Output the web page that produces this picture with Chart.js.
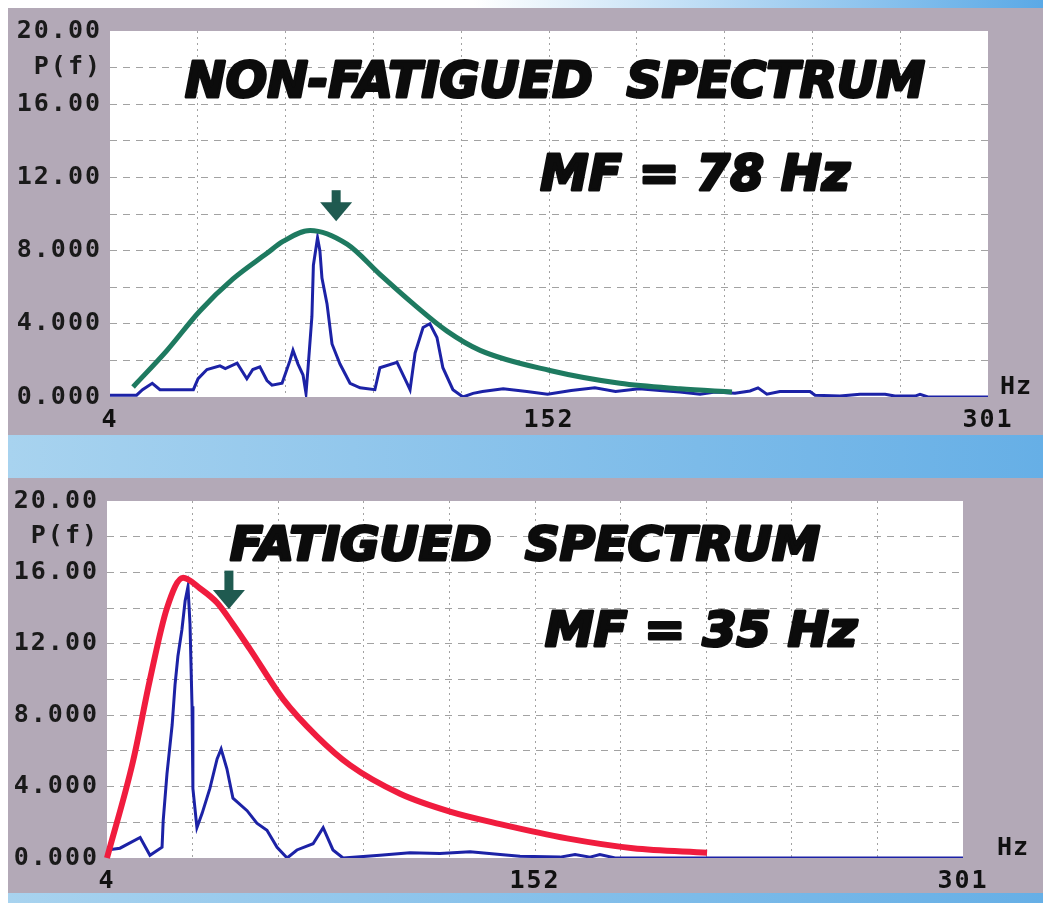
<!DOCTYPE html>
<html>
<head>
<meta charset="utf-8">
<script src="https://cdn.jsdelivr.net/npm/chart.js@4.4.1/dist/chart.umd.min.js"></script>
<style>
  body { margin: 0; width: 1043px; height: 903px; background: #fff; position: relative; overflow: hidden; }
  .panel { position: absolute; left: 8px; width: 1035px; background: #b3a9b7; }
  .band { position: absolute; left: 8px; width: 1035px; background: linear-gradient(90deg, #a8d3ef, #66afe6); }
  #p1 { top: 8px; height: 427px; }
  #p2 { top: 478px; height: 415px; }
</style>
</head>
<body>
<div class="band" style="top:0;height:8px;background:linear-gradient(90deg,#fff 45%,#5aa9e6)"></div>
<div class="panel" id="p1"><canvas id="topChart"></canvas></div>
<div class="band" style="top:435px;height:43px"></div>
<div class="panel" id="p2"><canvas id="botChart"></canvas></div>
<div class="band" style="top:893px;height:10px"></div>
<script>
// axis ticks (10 divisions each way)
const xGridHz = [4, 33.7, 63.4, 93.1, 122.8, 152.5, 182.2, 211.9, 241.6, 271.3, 301];
const xTickText = ['4', '', '', '', '', '152', '', '', '', '', '301'];
const yGrid = [0, 2, 4, 6, 8, 10, 12, 14, 16, 18, 20];
const yTickText = ['0.000', '', '4.000', '', '8.000', '', '12.00', '', '16.00', 'P(f)', '20.00'];

// non-fatigued: measured spectrum
const topFreq = [4, 13, 15, 18.3, 20.9, 32.2, 33.8, 36.8, 41.2, 43, 47, 50.3, 52.3, 54.7, 57.1, 58.8,
  62.2, 64.9, 65.9, 67.6, 69.3, 70.3, 71, 72.3, 72.8, 74.2, 75, 75.7, 77.4, 79.1, 81.8, 85.2, 88.6,
  93.6, 95.3, 101.1, 104.5, 105.5, 107.2, 109.9, 112.2, 114.6, 116.6, 120, 123.4, 126.8, 130, 137,
  145, 152, 160, 168, 175, 183, 190, 196.8, 203.6, 208.7, 215.4, 220.5, 223.2, 226.2, 230.6, 240.8,
  242.5, 250.9, 257.7, 266.2, 269.5, 276.3, 278, 280.7, 301];
const topPower = [0.1, 0.1, 0.4, 0.75, 0.4, 0.4, 1.0, 1.5, 1.7, 1.55, 1.85, 1.0, 1.5, 1.65, 0.9, 0.65,
  0.75, 2.0, 2.55, 1.8, 1.2, 0.2, 1.6, 4.4, 7.2, 8.7, 8.0, 6.5, 5.1, 2.9, 1.8, 0.75, 0.5,
  0.4, 1.6, 1.9, 0.75, 0.4, 2.4, 3.8, 4.0, 3.25, 1.6, 0.4, 0.0, 0.2, 0.3, 0.45,
  0.3, 0.15, 0.35, 0.5, 0.3, 0.45, 0.35, 0.27, 0.15, 0.27, 0.2, 0.33, 0.5, 0.15, 0.3, 0.3,
  0.1, 0.05, 0.15, 0.15, 0.05, 0.05, 0.15, 0.0, 0.0];
// non-fatigued: fitted curve
const topFitFreq = [11.8, 23.3, 34.4, 45.6, 57.1, 62.5, 71.7, 84.2, 95.3, 106.5, 118, 129.2, 152.8, 176.5, 196.8, 214.4];
const topFitPower = [0.55, 2.55, 4.7, 6.45, 7.85, 8.5, 9.1, 8.35, 6.7, 5.1, 3.6, 2.55, 1.45, 0.75, 0.45, 0.27];

// fatigued: measured spectrum
const botFreq = [4, 8.5, 15.5, 18.9, 23.1, 23.5, 24.8, 26.6, 27.6, 28.6, 30, 31.1, 32.1, 32.8, 33.5, 33.8,
  35.2, 37, 39.7, 42.2, 43.6, 45.6, 47.7, 52.6, 56, 59.5, 63, 66.5, 69.9, 75.5, 79, 82.4, 85.9,
  98.7, 109.1, 119.5, 130, 140.4, 147.3, 161.2, 166.4, 171.6, 175, 180.3, 301];
const botPower = [0.45, 0.55, 1.15, 0.15, 0.6, 2.1, 4.7, 7.45, 9.7, 11.3, 12.8, 14.4, 15.2, 13.1, 8.5, 3.9,
  1.7, 2.5, 3.9, 5.55, 6.1, 5.0, 3.35, 2.65, 1.95, 1.55, 0.6, 0.0, 0.45, 0.8, 1.7, 0.45, 0.0,
  0.15, 0.3, 0.25, 0.35, 0.2, 0.1, 0.05, 0.2, 0.05, 0.2, 0.0, 0.0];
// fatigued: fitted curve
const botFitFreq = [4, 13, 18.9, 24.8, 30.4, 36.3, 42.2, 47.7, 53.6, 65.1, 76.9, 88.3, 105.7, 123, 140.4, 163.6, 186.5, 212.2];
const botFitPower = [0.0, 5.4, 10.0, 14.0, 15.7, 15.1, 14.3, 13.1, 11.7, 8.9, 6.8, 5.2, 3.6, 2.6, 1.9, 1.1, 0.55, 0.3];

// annotations, in axis units (Hz / P)
const topNotes = [
  { text: 'NON-FATIGUED  SPECTRUM', from: 29.4, to: 279.7, base: 16.4, cap: 18.4 },
  { text: 'MF = 78 Hz', from: 149.5, to: 254.3, base: 11.3, cap: 13.3 }
];
const botNotes = [
  { text: 'FATIGUED  SPECTRUM', from: 46.7, to: 251.4, base: 16.7, cap: 18.6 },
  { text: 'MF = 35 Hz', from: 156, to: 264.3, base: 11.85, cap: 13.8 }
];
const topArrow = { at: 80.5, from: 11.3, to: 9.6 };
const botArrow = { at: 46.3, from: 16.1, to: 13.95 };

const pairs = (xs, ys) => xs.map((x, i) => ({ x, y: ys[i] }));

const plotPlugin = {
  id: 'plot',
  beforeDraw(chart) {
    const { ctx, chartArea: a } = chart;
    ctx.save();
    ctx.fillStyle = '#fff';
    ctx.fillRect(a.left, a.top, a.right - a.left, a.bottom - a.top);
    ctx.restore();
    ctx.letterSpacing = '2px'; // wide screen font for tick labels
  },
  afterDraw(chart, args, opts) {
    const { ctx, chartArea: a } = chart;
    const xs = chart.scales.x, ys = chart.scales.y;
    ctx.save();
    ctx.letterSpacing = '0px';
    ctx.fillStyle = '#0c0c0c';
    ctx.strokeStyle = '#0c0c0c';
    ctx.lineWidth = 3;
    ctx.lineJoin = 'round';
    opts.notes.forEach(n => {
      const left = xs.getPixelForValue(n.from), right = xs.getPixelForValue(n.to);
      const base = ys.getPixelForValue(n.base), top = ys.getPixelForValue(n.cap);
      const size = (base - top) / 0.73;
      ctx.font = 'italic bold ' + size + 'px "DejaVu Sans"';
      const w = ctx.measureText(n.text).width;
      ctx.save();
      ctx.translate(left, base);
      ctx.scale((right - left) / w, 1);
      ctx.textBaseline = 'alphabetic';
      ctx.fillText(n.text, 0, 0);
      ctx.strokeText(n.text, 0, 0);
      ctx.restore();
    });
    // marker arrow
    const ar = opts.arrow;
    const ax = xs.getPixelForValue(ar.at), y0 = ys.getPixelForValue(ar.from), y1 = ys.getPixelForValue(ar.to);
    ctx.fillStyle = '#1f5a50';
    ctx.fillRect(ax - 4.5, y0, 9, (y1 - y0) - 16);
    ctx.beginPath();
    ctx.moveTo(ax - 16, y1 - 19);
    ctx.lineTo(ax + 16, y1 - 19);
    ctx.lineTo(ax, y1);
    ctx.closePath();
    ctx.fill();
    // unit label
    ctx.letterSpacing = '1px';
    ctx.fillStyle = '#111';
    ctx.font = 'bold 25px "DejaVu Sans Mono"';
    ctx.textBaseline = 'alphabetic';
    ctx.fillText('Hz', a.right + opts.hzGap, a.bottom - 3);
    ctx.restore();
  }
};

function spectrumChart(id, spec) {
  return new Chart(document.getElementById(id), {
    type: 'line',
    data: {
      datasets: [
        { data: pairs(spec.fitX, spec.fitY), borderColor: spec.fitColor, borderWidth: spec.fitWidth,
          pointRadius: 0, cubicInterpolationMode: 'monotone', clip: false },
        { data: pairs(spec.x, spec.y), borderColor: '#1c22a6', borderWidth: 3,
          pointRadius: 0, tension: 0 }
      ]
    },
    options: {
      animation: false,
      responsive: true,
      maintainAspectRatio: false,
      layout: { padding: { top: spec.top, right: spec.right, left: 0, bottom: 0 } },
      plugins: {
        legend: { display: false },
        tooltip: { enabled: false },
        plot: { notes: spec.notes, arrow: spec.arrow, hzGap: spec.hzGap }
      },
      scales: {
        x: {
          type: 'linear', min: 4, max: 301,
          afterBuildTicks: s => { s.ticks = xGridHz.map(v => ({ value: v })); },
          afterFit: s => { s.height = spec.xHeight; },
          ticks: {
            autoSkip: false, maxRotation: 0, padding: 8, color: '#111',
            font: { family: 'DejaVu Sans Mono', size: 25, weight: 'bold' },
            callback: (v, i) => xTickText[i]
          },
          grid: {
            drawTicks: false, lineWidth: 1,
            color: c => (c.index === 0 || c.index === xGridHz.length - 1) ? 'rgba(0,0,0,0)' : '#a2a2a2'
          },
          border: { display: false, dash: [2, 4] }
        },
        y: {
          type: 'linear', min: 0, max: 20,
          afterBuildTicks: s => { s.ticks = yGrid.map(v => ({ value: v })); },
          afterFit: s => { s.width = spec.yWidth; },
          ticks: {
            autoSkip: false, padding: 8, color: '#1a1a1a',
            font: { family: 'DejaVu Sans Mono', size: 25, weight: 'bold' },
            callback: (v, i) => yTickText[i]
          },
          grid: {
            drawTicks: false, lineWidth: 1,
            color: c => (c.index === 0 || c.index === yGrid.length - 1) ? 'rgba(0,0,0,0)' : '#a2a2a2'
          },
          border: { display: false, dash: [7, 6] }
        }
      }
    },
    plugins: [plotPlugin]
  });
}

spectrumChart('topChart', {
  x: topFreq, y: topPower, fitX: topFitFreq, fitY: topFitPower,
  fitColor: '#1e7a60', fitWidth: 5, notes: topNotes, arrow: topArrow,
  top: 20, right: 55, xHeight: 38, yWidth: 102, hzGap: 12
});
spectrumChart('botChart', {
  x: botFreq, y: botPower, fitX: botFitFreq, fitY: botFitPower,
  fitColor: '#f01c3e', fitWidth: 6, notes: botNotes, arrow: botArrow,
  top: 17, right: 80, xHeight: 35, yWidth: 99, hzGap: 34
});
</script>
</body>
</html>
